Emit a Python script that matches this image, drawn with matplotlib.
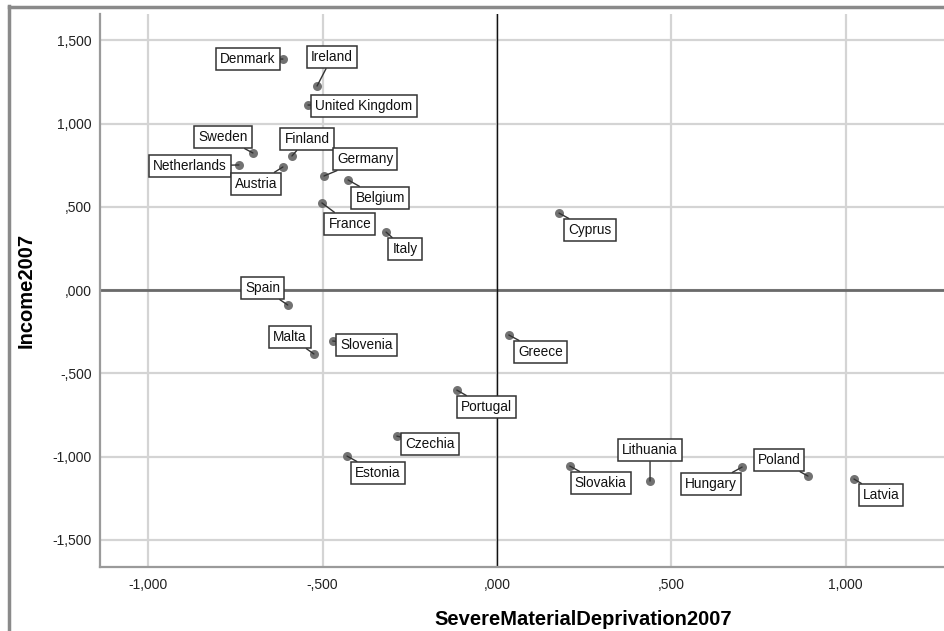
import matplotlib
matplotlib.use("Agg")
import matplotlib.pyplot as plt
from matplotlib.lines import Line2D
from matplotlib.ticker import FixedLocator, FuncFormatter

plt.rcParams['font.family'] = ['Liberation Sans', 'DejaVu Sans']

countries = ["Denmark", "Ireland", "United Kingdom", "Sweden", "Netherlands", "Finland",
             "Austria", "Germany", "Belgium", "France", "Italy", "Spain", "Malta",
             "Slovenia", "Greece", "Portugal", "Czechia", "Estonia", "Cyprus",
             "Slovakia", "Lithuania", "Hungary", "Poland", "Latvia"]
deprivation = [-0.614, -0.516, -0.542, -0.700, -0.740, -0.588, -0.614, -0.496, -0.427,
               -0.502, -0.318, -0.600, -0.525, -0.471, 0.034, -0.115, -0.287, -0.430,
               0.178, 0.209, 0.439, 0.703, 0.892, 1.024]
income = [1.387, 1.225, 1.111, 0.823, 0.751, 0.805, 0.739, 0.685, 0.661, 0.523, 0.348,
          -0.090, -0.384, -0.306, -0.270, -0.601, -0.877, -0.997, 0.462, -1.057, -1.147,
          -1.063, -1.117, -1.135]
x_ticks = [-1.0, -0.5, 0.0, 0.5, 1.0]
y_ticks = [-1.5, -1.0, -0.5, 0.0, 0.5, 1.0, 1.5]

# label offsets (pixels) from each point
label_offsets = {
    "Denmark": (-35, 0), "Ireland": (15, 29), "United Kingdom": (56, -1),
    "Sweden": (-30, 16), "Netherlands": (-49, -1), "Finland": (15, 17),
    "Austria": (-27, -17), "Germany": (41, 17), "Belgium": (32, -18),
    "France": (28, -21), "Italy": (19, -17), "Spain": (-25, 17), "Malta": (-24, 17),
    "Slovenia": (34, -4), "Greece": (32, -17), "Portugal": (30, -17),
    "Czechia": (33, -8), "Estonia": (31, -17), "Cyprus": (31, -17),
    "Slovakia": (31, -17), "Lithuania": (0, 31), "Hungary": (-31, -17),
    "Poland": (-29, 16), "Latvia": (27, -16),
}

W, H = 944, 631
fig = plt.figure(figsize=(W / 100, H / 100), dpi=100)
left_px, right_px, top_px, bottom_px = 100, 1066, 14, 567
ax = fig.add_axes([left_px / W, 1 - bottom_px / H, (right_px - left_px) / W,
                   (bottom_px - top_px) / H])

ax.set_xlim(-1.1385, 1.632)
ax.set_ylim(-1.663, 1.6575)

ax.xaxis.set_major_locator(FixedLocator(x_ticks))
ax.yaxis.set_major_locator(FixedLocator(y_ticks))

def fmt(v, pos=None):
    s = f"{abs(v):,.3f}".replace(".", ",")
    if s.startswith("0,"):
        s = s[1:]
    return ("-" if v < 0 else "") + s

ax.xaxis.set_major_formatter(FuncFormatter(fmt))
ax.yaxis.set_major_formatter(FuncFormatter(fmt))

ax.grid(True, color="#d4d4d4", lw=1.6, zorder=0)
ax.set_axisbelow(True)
ax.axhline(0, color="#6a6a6a", lw=2.0, zorder=1)
ax.axvline(0, color="#111111", lw=1.0, zorder=1)

for s in ["top", "right"]:
    ax.spines[s].set_visible(False)
for s in ["left", "bottom"]:
    ax.spines[s].set_color("#9a9a9a")
    ax.spines[s].set_linewidth(1.6)

ax.tick_params(axis="both", length=0, labelsize=10, colors="#222222")
ax.tick_params(axis="x", pad=8)
ax.tick_params(axis="y", pad=6)

ax.scatter(deprivation, income, s=42, color="#727272", zorder=3, linewidths=0)

for name, x, y in zip(countries, deprivation, income):
    dx, dy = label_offsets[name]
    ax.annotate(name, xy=(x, y), xytext=(dx, dy), textcoords="offset pixels",
                ha="center", va="center", fontsize=9.8, color="#111111", zorder=4,
                bbox=dict(boxstyle="square,pad=0.3", fc="white", ec="#333333", lw=1.1),
                arrowprops=dict(arrowstyle="-", color="#333333", lw=1.0,
                                shrinkA=0, shrinkB=0))

ax.set_xlabel("SevereMaterialDeprivation2007", fontsize=14.5, fontweight="bold", labelpad=13)
ax.set_ylabel("Income2007", fontsize=14.5, fontweight="bold", labelpad=12)

# outer frame
fig.add_artist(Line2D([9 / W, 1.0], [1 - 7 / H, 1 - 7 / H], color="#8a8a8a", lw=2.5,
                      transform=fig.transFigure))
fig.add_artist(Line2D([9 / W, 9 / W], [0, 1 - 6 / H], color="#8a8a8a", lw=2.5,
                      transform=fig.transFigure))

fig.savefig("out.png", dpi=100)
